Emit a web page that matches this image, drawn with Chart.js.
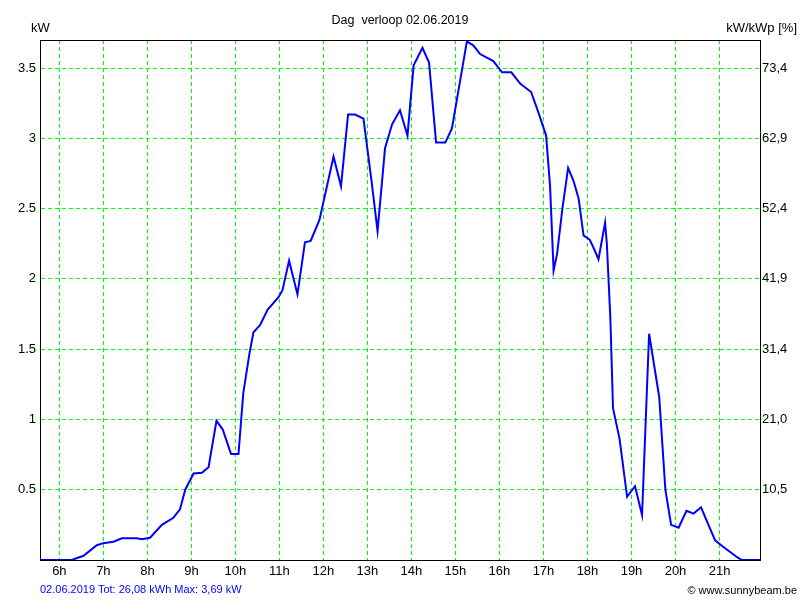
<!DOCTYPE html>
<html>
<head>
<meta charset="utf-8">
<script src="https://cdn.jsdelivr.net/npm/chart.js@4/dist/chart.umd.min.js"></script>
<style>
  html, body { margin: 0; padding: 0; background: #fff; }
  #wrap { position: relative; width: 800px; height: 600px; }
  #c { position: absolute; left: 0; top: 0; }
  .t { position: absolute; font-family: "Liberation Sans", Arial, sans-serif; white-space: pre; color: #000; }
</style>
</head>
<body>
<div id="wrap">
  <canvas id="c" width="800" height="600"></canvas>
  <div class="t" style="left:0;width:800px;text-align:center;top:13px;font-size:12.5px;line-height:15px;">Dag  verloop 02.06.2019</div>
  <div class="t" style="left:31px;top:20px;font-size:13px;line-height:15px;">kW</div>
  <div class="t" style="right:3px;top:19.5px;font-size:13px;line-height:15px;">kW/kWp [%]</div>
  <div class="t" style="left:40px;top:582.5px;font-size:11px;line-height:13px;color:#0000ff;">02.06.2019 Tot: 26,08 kWh Max: 3,69 kW</div>
  <div class="t" style="right:3px;top:584px;font-size:11px;line-height:13px;">© www.sunnybeam.be</div>
</div>
<script>
// time of day in decimal hours
const times = [5.56, 6.28, 6.55, 6.85, 7.0, 7.23, 7.42, 7.76, 7.87, 8.06, 8.33, 8.59, 8.74, 8.86,
  9.05, 9.24, 9.39, 9.57, 9.71, 9.90, 10.07, 10.18, 10.32, 10.41, 10.56, 10.73, 10.98, 11.07,
  11.22, 11.41, 11.58, 11.71, 11.91, 12.23, 12.40, 12.56, 12.72, 12.91, 13.10, 13.23, 13.40,
  13.56, 13.74, 13.91, 14.05, 14.25, 14.40, 14.56, 14.77, 14.92, 15.26, 15.41, 15.56, 15.86,
  16.06, 16.27, 16.47, 16.72, 16.89, 17.06, 17.15, 17.23, 17.31, 17.43, 17.56, 17.68, 17.80,
  17.91, 18.05, 18.14, 18.25, 18.40, 18.44, 18.52, 18.58, 18.73, 18.90, 19.08, 19.24, 19.40,
  19.63, 19.77, 19.90, 20.07, 20.25, 20.41, 20.58, 20.90, 21.06, 21.40, 21.51, 21.92];
// power in kW
const power = [0, 0, 0.03, 0.105, 0.12, 0.13, 0.155, 0.155, 0.148, 0.158, 0.25, 0.30, 0.36, 0.50,
  0.615, 0.62, 0.66, 0.99, 0.93, 0.755, 0.755, 1.19, 1.47, 1.62, 1.67, 1.78, 1.87, 1.92,
  2.13, 1.89, 2.26, 2.27, 2.42, 2.87, 2.66, 3.17, 3.17, 3.14, 2.68, 2.34, 2.93,
  3.10, 3.20, 3.02, 3.52, 3.645, 3.54, 2.97, 2.97, 3.07, 3.69, 3.66, 3.60, 3.55,
  3.47, 3.47, 3.39, 3.33, 3.18, 3.02, 2.66, 2.06, 2.18, 2.50, 2.79, 2.70, 2.57,
  2.31, 2.28, 2.22, 2.14, 2.40, 2.25, 1.72, 1.08, 0.86, 0.45, 0.525, 0.32, 1.61,
  1.16, 0.50, 0.25, 0.23, 0.35, 0.33, 0.375, 0.14, 0.10, 0.02, 0, 0];
const hourTicks = [6, 7, 8, 9, 10, 11, 12, 13, 14, 15, 16, 17, 18, 19, 20, 21];
const kwTicks = [0.5, 1, 1.5, 2, 2.5, 3, 3.5];
const kwLabels = ['0.5', '1', '1.5', '2', '2.5', '3', '3.5'];
const pctLabels = ['10,5', '21,0', '31,4', '41,9', '52,4', '62,9', '73,4'];

const FONT = { family: '"Liberation Sans", Arial, sans-serif', size: 13 };
const GREEN = '#00ff00';

const framePlugin = {
  id: 'frame',
  beforeDatasetsDraw(chart) {
    const a = chart.chartArea, ctx = chart.ctx;
    ctx.save();
    ctx.strokeStyle = '#000';
    ctx.lineWidth = 1;
    ctx.setLineDash([]);
    ctx.strokeRect(Math.round(a.left) + 0.5, Math.round(a.top) + 0.5,
      Math.round(a.right - a.left), Math.round(a.bottom - a.top));
    ctx.restore();
  }
};

new Chart(document.getElementById('c'), {
  type: 'line',
  data: {
    datasets: [{
      data: times.map((t, i) => ({ x: t, y: power[i] })),
      borderColor: '#0000ff',
      borderWidth: 2,
      pointRadius: 0,
      tension: 0,
      fill: false
    }]
  },
  plugins: [framePlugin],
  options: {
    responsive: false,
    animation: false,
    events: [],
    layout: { padding: { top: 40, left: 0, right: 0, bottom: 0 } },
    plugins: { legend: { display: false }, tooltip: { enabled: false }, title: { display: false } },
    scales: {
      x: {
        type: 'linear',
        min: 5.56,
        max: 21.92,
        afterBuildTicks: s => { s.ticks = hourTicks.map(v => ({ value: v })); },
        afterFit: s => { s.height = 40; },
        ticks: { color: '#000', font: FONT, padding: 4, maxRotation: 0, autoSkip: false,
          callback: (v) => v + 'h' },
        grid: { color: GREEN, lineWidth: 1, drawTicks: false },
        border: { display: true, color: '#000', width: 1, dash: [4, 3] }
      },
      y: {
        type: 'linear',
        position: 'left',
        min: 0,
        max: 3.7,
        afterBuildTicks: s => { s.ticks = kwTicks.map(v => ({ value: v })); },
        afterFit: s => { s.width = 40; },
        ticks: { color: '#000', font: FONT, padding: 4, autoSkip: false,
          callback: (v, i) => kwLabels[i] },
        grid: { color: GREEN, lineWidth: 1, drawTicks: false },
        border: { display: true, color: '#000', width: 1, dash: [4, 3] }
      },
      y2: {
        type: 'linear',
        position: 'right',
        min: 0,
        max: 3.7,
        afterBuildTicks: s => { s.ticks = kwTicks.map(v => ({ value: v })); },
        afterFit: s => { s.width = 40; },
        ticks: { color: '#000', font: FONT, padding: 2, autoSkip: false,
          callback: (v, i) => pctLabels[i] },
        grid: { display: false, drawTicks: false },
        border: { display: true, color: '#000', width: 1 }
      }
    }
  }
});
</script>
</body>
</html>
